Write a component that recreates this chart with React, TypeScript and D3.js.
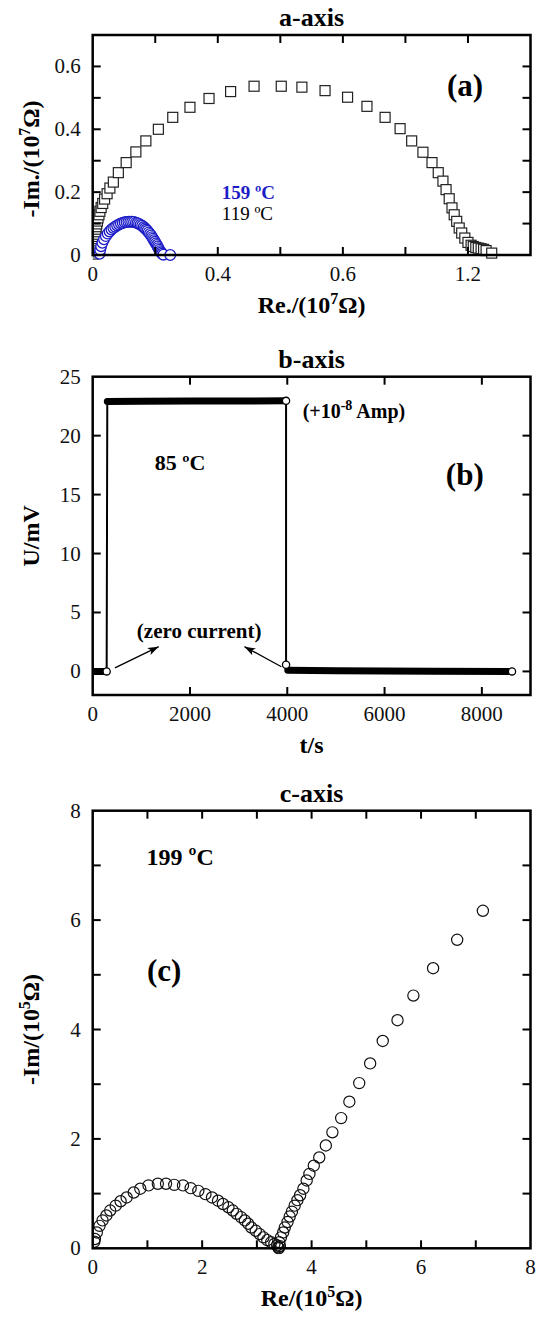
import React from 'react';
import * as d3 from 'd3';

const W = 538;
const H = 1318;
const LEFT = 92.7;
const RIGHT = 530.5;
const FONT = '"Liberation Serif", "Times New Roman", serif';
const BLUE = '#1c1cc8';

// ---- panel (a): a-axis impedance, 119 C squares and 159 C circles
const aSquares119: [number, number][] = [
  [0.003, 0.003], [0.003, 0.01], [0.004, 0.017], [0.004, 0.024], [0.005, 0.031],
  [0.005, 0.038], [0.006, 0.045], [0.006, 0.052], [0.007, 0.059], [0.008, 0.066],
  [0.009, 0.074], [0.01, 0.082], [0.011, 0.09], [0.013, 0.099], [0.015, 0.108],
  [0.017, 0.118], [0.02, 0.128], [0.023, 0.139], [0.027, 0.151], [0.032, 0.164],
  [0.038, 0.178], [0.046, 0.195], [0.055, 0.213], [0.066, 0.232],
  [0.082, 0.262], [0.107, 0.294], [0.138, 0.328], [0.17, 0.363], [0.21, 0.4],
  [0.256, 0.438], [0.311, 0.47], [0.372, 0.498], [0.441, 0.52], [0.516, 0.537],
  [0.603, 0.537], [0.669, 0.534], [0.743, 0.523], [0.815, 0.502], [0.877, 0.473],
  [0.935, 0.438], [0.983, 0.402], [1.02, 0.363], [1.056, 0.327], [1.085, 0.294],
  [1.105, 0.262], [1.12, 0.235], [1.13, 0.208], [1.14, 0.179], [1.149, 0.15],
  [1.156, 0.128], [1.164, 0.107], [1.172, 0.086], [1.18, 0.07], [1.19, 0.054],
  [1.2, 0.04], [1.21, 0.031], [1.217, 0.027], [1.225, 0.024], [1.233, 0.022],
  [1.242, 0.02], [1.25, 0.018], [1.258, 0.014], [1.276, 0.006],
];
const aCircles159: [number, number][] = [
  [0.022, 0.004], [0.024, 0.016], [0.027, 0.028], [0.031, 0.039], [0.036, 0.05],
  [0.042, 0.06], [0.048, 0.068], [0.054, 0.075], [0.06, 0.081], [0.066, 0.086],
  [0.072, 0.09], [0.078, 0.094], [0.084, 0.097], [0.09, 0.1], [0.096, 0.102],
  [0.102, 0.104], [0.108, 0.105], [0.114, 0.106], [0.12, 0.106], [0.126, 0.106],
  [0.132, 0.105], [0.138, 0.103], [0.143, 0.101], [0.148, 0.099], [0.153, 0.096],
  [0.158, 0.093], [0.163, 0.089], [0.167, 0.085], [0.171, 0.081], [0.175, 0.077],
  [0.179, 0.072], [0.183, 0.067], [0.187, 0.062], [0.19, 0.057], [0.193, 0.052],
  [0.196, 0.047], [0.199, 0.042], [0.202, 0.037], [0.205, 0.032], [0.208, 0.027],
  [0.21, 0.022], [0.213, 0.017], [0.216, 0.012], [0.219, 0.008], [0.222, 0.004],
  [0.226, 0.001], [0.248, 0],
];
const aXTicks = [0.2, 0.4, 0.6, 0.8, 1.0, 1.2];
const aXTickValues = [0, 0.4, 0.8, 1.2];
const aXTickLabels = ['0', '0.4', '0.6', '1.2'];
const aYTicks = [0.1, 0.2, 0.3, 0.4, 0.5, 0.6];
const aYTickValues = [0, 0.2, 0.4, 0.6];
const aYTickLabels = ['0', '0.2', '0.4', '0.6'];

// ---- panel (b): b-axis potential vs time
const bBefore: [number, number][] = [[0, 0], [100, 0], [200, 0], [287, 0]];
const bCurrent: [number, number][] = [[300, 22.9], [1000, 22.92], [2000, 22.93], [3000, 22.94], [3975, 22.95]];
const bAfter: [number, number][] = [[3975, 0.57], [4010, 0.1], [5000, 0.05], [6000, 0.03], [7000, 0.02], [8620, 0]];
const bEnds: [number, number][] = [[287, 0], [3975, 22.95], [3975, 0.57], [8620, 0]];
const bXTicks = [2000, 4000, 6000, 8000];
const bXTickValues = [0, 2000, 4000, 6000, 8000];
const bYTicks = [0, 5, 10, 15, 20];
const bYTickValues = [0, 5, 10, 15, 20, 25];

// ---- panel (c): c-axis impedance at 199 C
const cPoints: [number, number][] = [
  [0.03, 0.12], [0.04, 0.17], [0.075, 0.29], [0.125, 0.41], [0.18, 0.51], [0.25, 0.6],
  [0.32, 0.69], [0.42, 0.78], [0.51, 0.86], [0.62, 0.93], [0.75, 1.02], [0.87, 1.09],
  [1.02, 1.15], [1.19, 1.18], [1.34, 1.18], [1.49, 1.16], [1.65, 1.15], [1.79, 1.1],
  [1.93, 1.05], [2.06, 0.99], [2.18, 0.93], [2.29, 0.87], [2.38, 0.81], [2.48, 0.75],
  [2.56, 0.69], [2.63, 0.63], [2.71, 0.57], [2.78, 0.51], [2.84, 0.45], [2.9, 0.38],
  [2.98, 0.32], [3.05, 0.26], [3.12, 0.2], [3.19, 0.15], [3.26, 0.11], [3.32, 0.08],
  [3.37, 0.05], [3.39, 0.02], [3.4, 0.0], [3.42, 0.04], [3.41, 0.11], [3.44, 0.2],
  [3.48, 0.29], [3.51, 0.38], [3.56, 0.48], [3.6, 0.58], [3.64, 0.67], [3.69, 0.78],
  [3.74, 0.88], [3.79, 0.97], [3.85, 1.09], [3.91, 1.24], [3.96, 1.36], [4.04, 1.51],
  [4.14, 1.66], [4.26, 1.88], [4.38, 2.12], [4.54, 2.38], [4.69, 2.68], [4.87, 3.02],
  [5.07, 3.38], [5.3, 3.79], [5.57, 4.17], [5.86, 4.62], [6.22, 5.12], [6.66, 5.64],
  [7.13, 6.17],
];
const cTicks = [1, 2, 3, 4, 5, 6, 7];
const cTickValues = [0, 2, 4, 6, 8];

type Scale = d3.ScaleLinear<number, number>;

interface PanelProps {
  top: number;
  bottom: number;
  xDomain: [number, number];
  yDomain: [number, number];
  xTicks: number[];
  yTicks: number[];
  xLabelValues: number[];
  xLabels?: string[];
  yLabelValues: number[];
  yLabels?: string[];
  title: string;
  xTitle: React.ReactNode;
  yTitle: React.ReactNode;
  yTitleY?: number;
  children: (x: Scale, y: Scale) => React.ReactNode;
}

const Panel = (p: PanelProps) => {
  const x = d3.scaleLinear().domain(p.xDomain).range([LEFT, RIGHT]);
  const y = d3.scaleLinear().domain(p.yDomain).range([p.bottom, p.top]);
  const midX = (LEFT + RIGHT) / 2;
  const midY = p.yTitleY ?? (p.top + p.bottom) / 2;
  const tl = 8;

  return (
    <g>
      <defs>
        <clipPath id={`clip-${p.title}`}>
          <rect x={LEFT} y={p.top - 6} width={RIGHT - LEFT + 6} height={p.bottom - p.top + 12} />
        </clipPath>
      </defs>
      <g clipPath={`url(#clip-${p.title})`}>{p.children(x, y)}</g>

      {p.xTicks.map(v => (
        <g key={'xt' + v} stroke="#000" strokeWidth={2}>
          <line x1={x(v)} x2={x(v)} y1={p.bottom} y2={p.bottom - tl} />
          <line x1={x(v)} x2={x(v)} y1={p.top} y2={p.top + tl} />
        </g>
      ))}
      {p.yTicks.map(v => (
        <g key={'yt' + v} stroke="#000" strokeWidth={2}>
          <line x1={LEFT} x2={LEFT + tl} y1={y(v)} y2={y(v)} />
          <line x1={RIGHT} x2={RIGHT - tl} y1={y(v)} y2={y(v)} />
        </g>
      ))}
      <rect x={LEFT} y={p.top} width={RIGHT - LEFT} height={p.bottom - p.top}
        fill="none" stroke="#000" strokeWidth={2.5} />

      <g fontFamily={FONT} fontSize={21} fill="#111">
        {p.xLabelValues.map((v, i) => (
          <text key={'xl' + v} x={x(v)} y={p.bottom + 26} textAnchor="middle">
            {p.xLabels ? p.xLabels[i] : d3.format('d')(v)}
          </text>
        ))}
        {p.yLabelValues.map((v, i) => (
          <text key={'yl' + v} x={LEFT - 12} y={y(v) + 7} textAnchor="end">
            {p.yLabels ? p.yLabels[i] : d3.format('d')(v)}
          </text>
        ))}
      </g>

      <g fontFamily={FONT} fontWeight="bold" fill="#000">
        <text x={midX} y={p.top - 9} textAnchor="middle" fontSize={26}>{p.title}</text>
        <text x={midX} y={p.bottom + 58} textAnchor="middle" fontSize={24}>{p.xTitle}</text>
        <text transform={`translate(39,${midY}) rotate(-90)`} textAnchor="middle" fontSize={24}>{p.yTitle}</text>
      </g>
    </g>
  );
};

const unit = (pre: string, exp: string, post: string) => (
  <>
    {pre}
    <tspan dy={-9} fontSize={16}>{exp}</tspan>
    <tspan dy={9}>{post}</tspan>
  </>
);

const App = () => {
  const bLine = (x: Scale, y: Scale) =>
    d3.line<[number, number]>().x(d => x(d[0])).y(d => y(d[1]));

  return (
    <svg width={W} height={H} style={{ position: 'absolute', left: 0, top: 0, background: '#fff' }}>
      <defs>
        <marker id="arrow" viewBox="0 0 10 7" refX={10} refY={3.5} markerWidth={11} markerHeight={8}
          markerUnits="userSpaceOnUse" orient="auto">
          <path d="M0,0 L10,3.5 L0,7 L2.5,3.5 z" fill="#000" />
        </marker>
      </defs>

      {/* (a) */}
      <Panel
        top={35} bottom={255}
        xDomain={[0, 1.4]} yDomain={[0, 0.7]}
        xTicks={aXTicks} yTicks={aYTicks}
        xLabelValues={aXTickValues} xLabels={aXTickLabels}
        yLabelValues={aYTickValues} yLabels={aYTickLabels}
        title="a-axis"
        xTitle={unit('Re./(10', '7', 'Ω)')}
        yTitle={unit('-Im./(10', '7', 'Ω)')}
        yTitleY={159}
      >
        {(x, y) => (
          <g>
            {aSquares119.map((d, i) => (
              <rect key={'s' + i} x={x(d[0]) - 5} y={y(d[1]) - 5} width={10} height={10}
                fill="#fff" stroke="#222" strokeWidth={1.2} />
            ))}
            {aCircles159.map((d, i) => (
              <circle key={'c' + i} cx={x(d[0])} cy={y(d[1])} r={5.3}
                fill="#fff" stroke={BLUE} strokeWidth={1.3} />
            ))}
            <g fontFamily={FONT} fontWeight="bold">
              <text x={x(0.413)} y={y(0.178)} fontSize={19} fill={BLUE}>159 ºC</text>
              <text x={x(0.413)} y={y(0.112)} fontSize={19} fontWeight="normal" fill="#000">119 ºC</text>
              <text x={x(1.133)} y={y(0.506)} fontSize={31} fill="#000">(a)</text>
            </g>
          </g>
        )}
      </Panel>

      {/* (b) */}
      <Panel
        top={376.7} bottom={695}
        xDomain={[0, 9000]} yDomain={[-2, 25]}
        xTicks={bXTicks} yTicks={bYTicks}
        xLabelValues={bXTickValues} yLabelValues={bYTickValues}
        title="b-axis"
        xTitle="t/s"
        yTitle="U/mV"
      >
        {(x, y) => {
          const line = bLine(x, y);
          return (
            <g>
              <path d={line([...bBefore, ...bCurrent, ...bAfter]) ?? ''} fill="none" stroke="#000" strokeWidth={2} />
              {[bBefore, bCurrent, bAfter.slice(1)].map((s, i) => (
                <path key={'band' + i} d={line(s) ?? ''} fill="none" stroke="#000"
                  strokeWidth={7} strokeLinecap="round" />
              ))}
              {bEnds.map((d, i) => (
                <circle key={'e' + i} cx={x(d[0])} cy={y(d[1])} r={3.6} fill="#fff" stroke="#000" strokeWidth={1.3} />
              ))}
              <line x1={x(457)} y1={y(0.3)} x2={x(1357)} y2={y(2.1)} stroke="#000" strokeWidth={1.3} markerEnd="url(#arrow)" />
              <line x1={x(3879)} y1={y(0.4)} x2={x(3120)} y2={y(2.1)} stroke="#000" strokeWidth={1.3} markerEnd="url(#arrow)" />
              <g fontFamily={FONT} fontWeight="bold" fill="#000">
                <text x={x(1277)} y={y(17.1)} fontSize={22}>85 ºC</text>
                <text x={x(4316)} y={y(21.5)} fontSize={20}>
                  (+10<tspan dy={-8} fontSize={14}>-8</tspan><tspan dy={8}> Amp)</tspan>
                </text>
                <text x={x(7260)} y={y(15.8)} fontSize={31}>(b)</text>
                <text x={x(908)} y={y(2.83)} fontSize={21}>(zero current)</text>
              </g>
            </g>
          );
        }}
      </Panel>

      {/* (c) */}
      <Panel
        top={810.7} bottom={1248.3}
        xDomain={[0, 8]} yDomain={[0, 8]}
        xTicks={cTicks} yTicks={cTicks}
        xLabelValues={cTickValues} yLabelValues={cTickValues}
        title="c-axis"
        xTitle={unit('Re/(10', '5', 'Ω)')}
        yTitle={unit('-Im/(10', '5', 'Ω)')}
      >
        {(x, y) => (
          <g>
            {cPoints.map((d, i) => (
              <circle key={'p' + i} cx={x(d[0])} cy={y(d[1])} r={5.6}
                fill="none" stroke="#111" strokeWidth={1.2} />
            ))}
            <g fontFamily={FONT} fontWeight="bold" fill="#000">
              <text x={x(0.985)} y={y(7.0)} fontSize={24}>199 ºC</text>
              <text x={x(0.99)} y={y(4.89)} fontSize={31}>(c)</text>
            </g>
          </g>
        )}
      </Panel>
    </svg>
  );
};

export default App;
